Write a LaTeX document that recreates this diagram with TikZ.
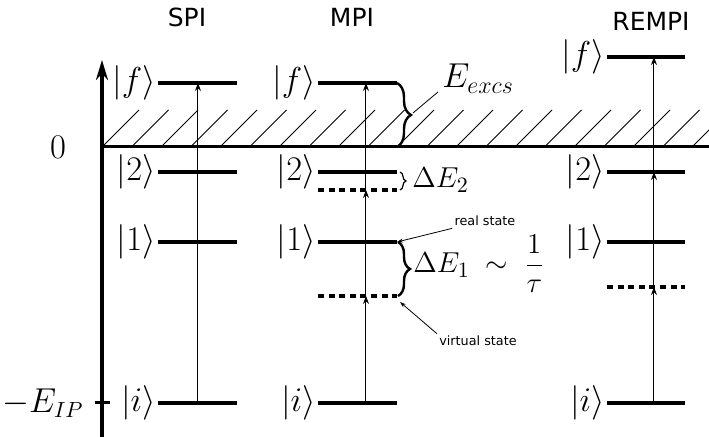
\documentclass[tikz,border=0pt]{standalone}
\usepackage{fontspec}
\newfontfamily\labelfont{DejaVu Sans}
\usetikzlibrary{arrows.meta,decorations.pathreplacing}
\begin{document}
\begin{tikzpicture}[x=5pt,y=5pt,>={Stealth[length=4pt,width=3pt]}]
  \tikzset{statelvl/.style={line width=1.6pt},
    virt/.style={line width=1.6pt, dash pattern=on 3pt off 2.3pt},
    trans/.style={->, line width=0.5pt},
    ket/.style={anchor=east, inner sep=1pt, font=\fontsize{16}{19}\selectfont},
    coltitle/.style={font=\labelfont\fontsize{12.5}{15}\selectfont},
    remark/.style={font=\labelfont\fontsize{6.4}{8}\selectfont, inner sep=1pt},
    pointer/.style={-{Stealth[length=3pt,width=2pt]}, line width=0.4pt},
    ebrace/.style={decorate, decoration={brace, amplitude=#1}, line width=1.2pt}}
  \useasboundingbox (-10.2,-29.0) rectangle (60.7,14.7);

  % continuum above the ionisation limit
  \begin{scope}
    \clip (0,0) rectangle (60.7,4);
    \foreach \k in {0,...,20}
      \draw[line width=0.5pt] (\k*2.95,0) -- ++(3.7,3.7);
  \end{scope}
  \draw[line width=1.5pt] (0,0) -- (60.7,0);

  % energy axis
  \draw[line width=1.8pt, -{Stealth[length=10pt,width=6pt]}] (0,-29.0) -- (0,8.7);
  \draw[line width=1.5pt] (-0.7,-25.6) -- (0.8,-25.6);
  \node[font=\fontsize{16}{19}\selectfont] (zero) at (-4.4,0) {$0$};
  \node[ket] (eip) at (-1.6,-25.6) {$-E_{IP}$};

  % column titles
  \node[coltitle] (spi) at (8.5,13.0) {SPI};
  \node[coltitle] (mpi) at (25.0,13.0) {MPI};
  \node[coltitle] (rempi) at (54.9,12.6) {REMPI};

  % SPI
  \foreach \y/\s in {6.4/f, -2.5/2, -9.5/1, -25.6/i} {
    \draw[statelvl] (5.6,\y) -- (13.5,\y);
    \node[ket] (spi-\s) at (5.6,\y) {$|\s\rangle$};
  }
  \coordinate (spi-a) at (9.6,-25.6);
  \coordinate (spi-b) at (9.6,6.4);
  \draw[trans] (spi-a) -- (spi-b);

  % MPI
  \foreach \y/\s in {6.4/f, -2.5/2, -9.5/1, -25.6/i} {
    \draw[statelvl] (21.6,\y) -- (29.5,\y);
    \node[ket] (mpi-\s) at (21.6,\y) {$|\s\rangle$};
  }
  \draw[virt] (21.6,-4.3) -- (29.5,-4.3);
  \draw[virt] (21.6,-14.9) -- (29.5,-14.9);
  \coordinate (mpi-a) at (26.4,-25.6);
  \coordinate (mpi-b) at (26.4,-14.9);
  \coordinate (mpi-c) at (26.4,-4.3);
  \coordinate (mpi-d) at (26.4,6.4);
  \draw[trans] (mpi-a) -- (mpi-b);
  \draw[trans] (mpi-b) -- (mpi-c);
  \draw[trans] (mpi-c) -- (mpi-d);

  % REMPI
  \foreach \y/\s in {9.0/f, -2.5/2, -9.5/1, -25.6/i} {
    \draw[statelvl] (50.5,\y) -- (58.3,\y);
    \node[ket] (rempi-\s) at (50.5,\y) {$|\s\rangle$};
  }
  \draw[virt] (50.5,-14.0) -- (58.3,-14.0);
  \coordinate (rempi-a) at (55.2,-25.6);
  \coordinate (rempi-b) at (55.2,-14.0);
  \coordinate (rempi-c) at (55.2,-2.5);
  \coordinate (rempi-d) at (55.2,9.0);
  \draw[trans] (rempi-a) -- (rempi-b);
  \draw[trans] (rempi-b) -- (rempi-c);
  \draw[trans] (rempi-c) -- (rempi-d);

  % braces and remarks
  \draw[ebrace=7pt] (29.5,6.4) -- (29.5,0);
  \draw[ebrace=3pt, line width=0.6pt] (29.8,-2.5) -- (29.8,-4.3);
  \draw[ebrace=6pt] (29.6,-9.5) -- (29.6,-14.9);
  \node[anchor=base west, inner sep=0pt, font=\fontsize{16.5}{20}\selectfont] (excs) at (34.0,5.9) {$E_{excs}$};
  \node[anchor=base west, inner sep=0pt, font=\fontsize{15.5}{18}\selectfont] (de2) at (31.0,-4.1) {$\Delta E_2$};
  \node[anchor=base west, inner sep=0pt, font=\fontsize{15.5}{18}\selectfont] (de1) at (31.1,-12.6) {$\Delta E_1 \;\sim\; \displaystyle\frac{1}{\tau}$};
  \coordinate (excs-tip) at (31.1,3.4);
  \draw[line width=0.4pt] ([shift={(-0.4,-0.4)}]excs.base west) -- (excs-tip);
  \node[remark] (real) at (38.3,-7.4) {real state};
  \node[remark] (virtual) at (37.6,-19.4) {virtual state};
  \coordinate (m1) at (29.5,-9.5);
  \coordinate (mv1) at (29.8,-15.5);
  \draw[pointer] (real.south west) -- (m1);
  \draw[pointer] (virtual.north west) -- (mv1);
\end{tikzpicture}
\end{document}
